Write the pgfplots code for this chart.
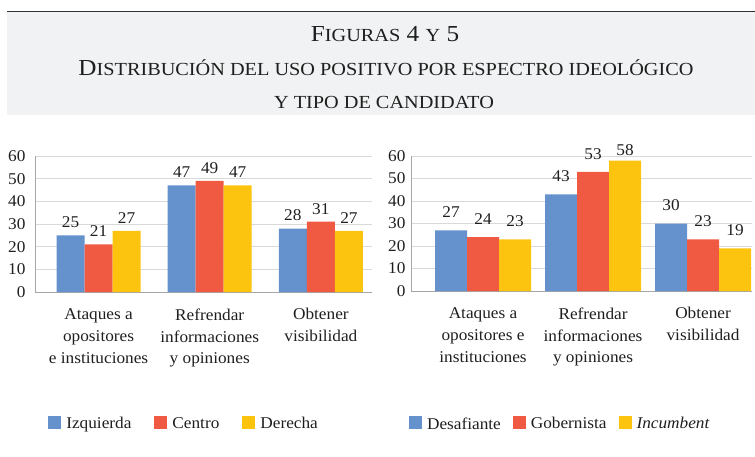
\documentclass[border=0pt]{standalone}
\usepackage{fontspec}
\setmainfont[FakeStretch=1.05]{Liberation Serif}
\newfontfamily\titlefont[FakeStretch=1.1]{Liberation Serif}
\usepackage{pgfplots}
\pgfplotsset{compat=1.18}
\definecolor{cblue}{HTML}{6592CC}
\definecolor{cred}{HTML}{F05A43}
\definecolor{cyel}{HTML}{FCC30F}
\definecolor{band}{HTML}{F1F2F3}
\definecolor{gridc}{HTML}{D9D9D9}
\definecolor{axisc}{HTML}{A6A6A6}
\definecolor{txt}{HTML}{1F1F1F}
\newcommand{\chartfont}{\fontsize{16.5}{22}\selectfont}
\newcommand{\TitBig}{\fontsize{23}{23}\selectfont}
\newcommand{\TitSm}{\fontsize{18.5}{18.5}\selectfont}
\pgfplotsset{mybar/.style={
  scale only axis, ybar=0pt, ymin=0, ymax=60, ytick={0,10,...,60},
  axis x line=bottom, axis y line=left,
  axis line style={axisc, line width=0.8pt, -},
  ymajorgrids, grid style={gridc, line width=0.8pt},
  major tick length=0pt, xtick={0,1,2},
  tick label style={font=\chartfont, text=txt},
  xticklabel style={align=center, anchor=north, yshift=-13bp},
  /pgf/number format/assume math mode=true,
  nodes near coords,
  every node near coord/.append style={font=\chartfont, text=txt},
  clip=false,
  legend image code/.code={\fill[##1] (0bp,-5bp) rectangle (13bp,8bp); \path (16bp,0bp);},
  legend style={draw=none, fill=none, font=\chartfont, text=txt, anchor=west},
  legend columns=-1,
}}
\begin{document}
\begin{tikzpicture}
\path[use as bounding box] (0,0) rectangle (755bp,-457bp);
\fill[band] (7bp,-11bp) rectangle (755bp,-115bp);
\draw[black!80, line width=1pt] (7bp,-11bp) -- (755bp,-11bp);
\node[anchor=base, text=txt, inner sep=0pt] at (385bp,-41bp) {\titlefont\TitBig F{\TitSm IGURAS} 4 {\TitSm Y} 5};
\node[anchor=base, text=txt, inner sep=0pt] at (386bp,-75bp) {\titlefont\TitBig D{\TitSm ISTRIBUCIÓN DEL USO POSITIVO POR ESPECTRO IDEOLÓGICO}};
\node[anchor=base, text=txt, inner sep=0pt] at (384bp,-108bp) {\titlefont\TitSm Y TIPO DE CANDIDATO};

\begin{axis}[mybar, at={(35bp,-292bp)}, anchor=south west,
  width=337bp, height=136bp, xmin=-0.572, xmax=2.46, bar width=0.252,
  yticklabel style={xshift=-6bp},
  every node near coord/.append style={yshift=4bp},
  xticklabels={{Ataques a\\opositores\\e instituciones},{Refrendar\\informaciones\\y opiniones},{Obtener\\visibilidad}},
  legend style={at={(axis description cs:0.03,-0.97)}, /tikz/every even column/.append style={column sep=21bp}},
]
\addplot[fill=cblue, draw=none] coordinates {(0,25) (1,47) (2,28)};
\addplot[fill=cred, draw=none] coordinates {(0,21) (1,49) (2,31)};
\addplot[fill=cyel, draw=none] coordinates {(0,27) (1,47) (2,27)};
\legend{Izquierda,Centro,Derecha}
\end{axis}

\begin{axis}[mybar, at={(411bp,-291bp)}, anchor=south west,
  width=341bp, height=135bp, xmin=-0.655, xmax=2.445, bar width=0.291,
  yticklabel style={xshift=-2bp},
  visualization depends on={rawy \as \rawy},
  every node near coord/.append style={yshift={(\rawy>57)?1:9}},
  xticklabels={{Ataques a\\opositores e\\instituciones},{Refrendar\\informaciones\\y opiniones},{Obtener\\visibilidad}},
  legend style={at={(axis description cs:-0.015,-0.985)}, /tikz/every even column/.append style={column sep=10bp}},
]
\addplot[fill=cblue, draw=none] coordinates {(0,27) (1,43) (2,30)};
\addplot[fill=cred, draw=none] coordinates {(0,24) (1,53) (2,23)};
\addplot[fill=cyel, draw=none] coordinates {(0,23) (1,58) (2,19)};
\legend{Desafiante,Gobernista,\textit{Incumbent}}
\end{axis}
\end{tikzpicture}
\end{document}
